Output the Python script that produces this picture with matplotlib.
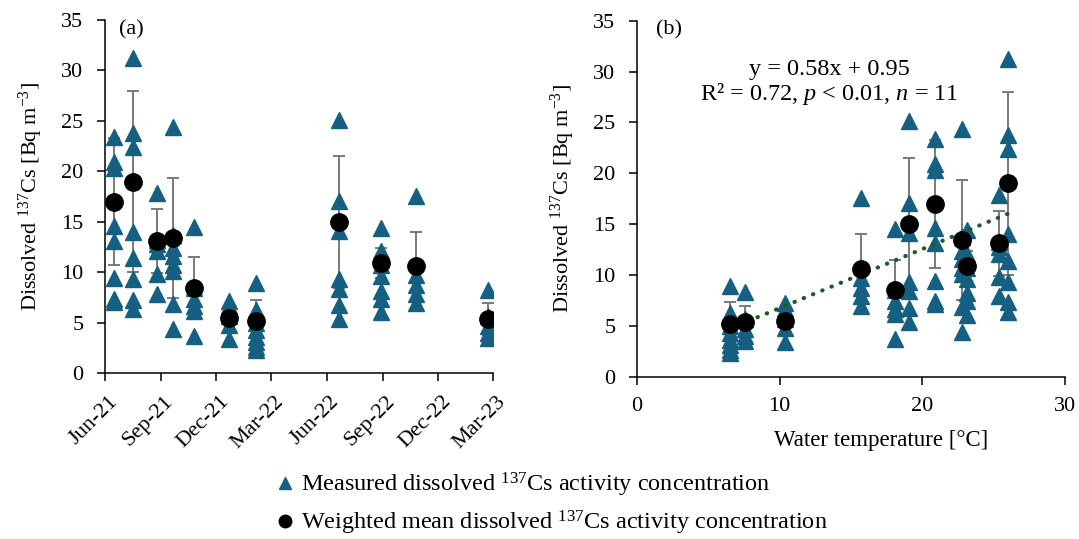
import matplotlib
matplotlib.use("Agg")
import matplotlib.pyplot as plt
import matplotlib.dates as mdates
import matplotlib.transforms as mtransforms
import numpy as np
import pandas as pd
from matplotlib.lines import Line2D

plt.rcParams['font.family'] = ['Liberation Serif', 'DejaVu Serif']
plt.rcParams['mathtext.fontset'] = 'custom'
plt.rcParams['mathtext.rm'] = 'Liberation Serif'
plt.rcParams['mathtext.it'] = 'Liberation Serif:italic'
plt.rcParams['font.size'] = 16

# sampling campaigns
sample_dates = ["2021-06-15", "2021-07-17", "2021-08-25", "2021-09-21", "2021-10-26",
                "2021-12-22", "2022-02-05", "2022-06-21", "2022-08-29", "2022-10-26",
                "2023-02-21"]
water_temp = [20.9, 26.0, 25.35, 22.8, 18.05, 10.4, 6.5, 19.05, 23.15, 15.7, 7.55]

# measured dissolved 137Cs per campaign [Bq m-3]
measured = [
    [23.4, 20.9, 20.3, 14.6, 13.1, 9.4, 7.4, 7.1],
    [31.2, 23.8, 22.4, 14.0, 11.4, 9.3, 7.3, 6.4],
    [17.9, 13.2, 12.8, 12.1, 9.8, 7.9],
    [24.4, 13.7, 12.4, 11.6, 10.7, 10.1, 6.9, 4.4],
    [14.5, 8.5, 7.4, 6.7, 6.2, 3.7],
    [7.2, 6.7, 5.7, 4.8, 3.4],
    [8.9, 6.3, 5.0, 4.3, 3.6, 3.1, 2.6, 2.3],
    [25.1, 17.1, 14.1, 9.3, 8.4, 6.8, 5.4],
    [14.4, 12.1, 10.7, 9.6, 8.2, 7.4, 6.1],
    [17.6, 9.7, 8.7, 7.9, 7.0],
    [8.3, 5.7, 4.7, 4.0, 3.5],
]
weighted_mean = [17.0, 19.0, 13.1, 13.4, 8.5, 5.5, 5.2, 15.0, 10.9, 10.6, 5.4]
mean_err = [6.3, 9.0, 3.2, 5.9, 3.0, 1.2, 2.1, 6.5, 1.5, 3.4, 1.6]

slope, intercept = 0.58, 0.95

tri_color = "#156082"
err_color = "#7a7a7a"
trend_color = "#1f5a22"

dates = pd.to_datetime(sample_dates)
rows = []
for d, t, vals in zip(dates, water_temp, measured):
    for v in vals:
        rows.append((d, t, v))
df = pd.DataFrame(rows, columns=["date", "temp", "cs"])

fig = plt.figure(figsize=(10.79, 5.39), dpi=100)
ax_a = fig.add_axes([0.0973, 0.3074, 0.3596, 0.6555])
ax_b = fig.add_axes([0.5904, 0.3011, 0.3967, 0.6605])

ylab = r"Dissolved $^{137}$Cs [Bq m$^{-3}$]"

for ax, xcol, xmean in [(ax_a, "date", dates), (ax_b, "temp", water_temp)]:
    ax.errorbar(xmean, weighted_mean, yerr=mean_err, fmt='none', ecolor=err_color,
                elinewidth=1.4, capsize=4.3, capthick=1.4, zorder=2)
    ax.plot(df[xcol], df["cs"], '^', color=tri_color, ms=11.5, mec=tri_color, zorder=3)
    ax.plot(xmean, weighted_mean, 'o', color='black', ms=12.5, zorder=5)
    ax.set_ylim(0, 35)
    ax.set_yticks(np.arange(0, 36, 5))
    ax.set_ylabel(ylab, labelpad=12)
    for s in ["top", "right"]:
        ax.spines[s].set_visible(False)
    for s in ["left", "bottom"]:
        ax.spines[s].set_linewidth(1.1)
    ax.tick_params(direction='out', length=5.5, width=1.1)
    ax.tick_params(axis='y', pad=10)
    ax.tick_params(axis='x', pad=9)

# (a) time axis
ax_a.set_xlim(pd.Timestamp("2021-06-01"), pd.Timestamp("2023-03-01"))
ax_a.xaxis.set_major_locator(mdates.MonthLocator(bymonth=[3, 6, 9, 12]))
ax_a.xaxis.set_major_formatter(mdates.DateFormatter("%b-%y"))
ax_a.tick_params(axis='x', pad=8)
shift = mtransforms.ScaledTranslation(0.03, 0, fig.dpi_scale_trans)
for lab in ax_a.get_xticklabels():
    lab.set_rotation(45)
    lab.set_ha('right')
    lab.set_va('top')
    lab.set_rotation_mode('anchor')
    lab.set_transform(lab.get_transform() + shift)
ax_a.text(0.035, 1.0, "(a)", transform=ax_a.transAxes, va='top', ha='left')

# (b) temperature axis with linear trend
ax_b.set_xlim(0, 30)
ax_b.set_xticks([0, 10, 20, 30])
ax_b.set_xlabel("Water temperature [°C]", fontsize=16.5)
ax_b.xaxis.set_label_coords(0.57, -0.15)
xt = np.array([min(water_temp), max(water_temp)])
ax_b.plot(xt, slope * xt + intercept, color=trend_color, lw=3,
          linestyle=(0, (0.1, 2.3)), dash_capstyle='round', zorder=4)
ax_b.text(0.045, 1.0, "(b)", transform=ax_b.transAxes, va='top', ha='left')
ax_b.text(0.45, 0.826, "y = 0.58x + 0.95\nR² = 0.72, $p$ < 0.01, $n$ = 11",
          transform=ax_b.transAxes, ha='center', va='center', linespacing=1.05,
          fontsize=17.5)

handles = [
    Line2D([], [], marker='^', ls='none', color=tri_color, ms=9),
    Line2D([], [], marker='o', ls='none', color='black', ms=9),
]
labels = [r"Measured dissolved $^{137}$Cs activity concentration",
          r"Weighted mean dissolved $^{137}$Cs activity concentration"]
fig.legend(handles, labels, loc='lower left', bbox_to_anchor=(0.233, -0.036),
           frameon=False, handletextpad=0.15, handlelength=1.0, labelspacing=0.4,
           fontsize=17.5)

fig.savefig("out.png", dpi=100)
